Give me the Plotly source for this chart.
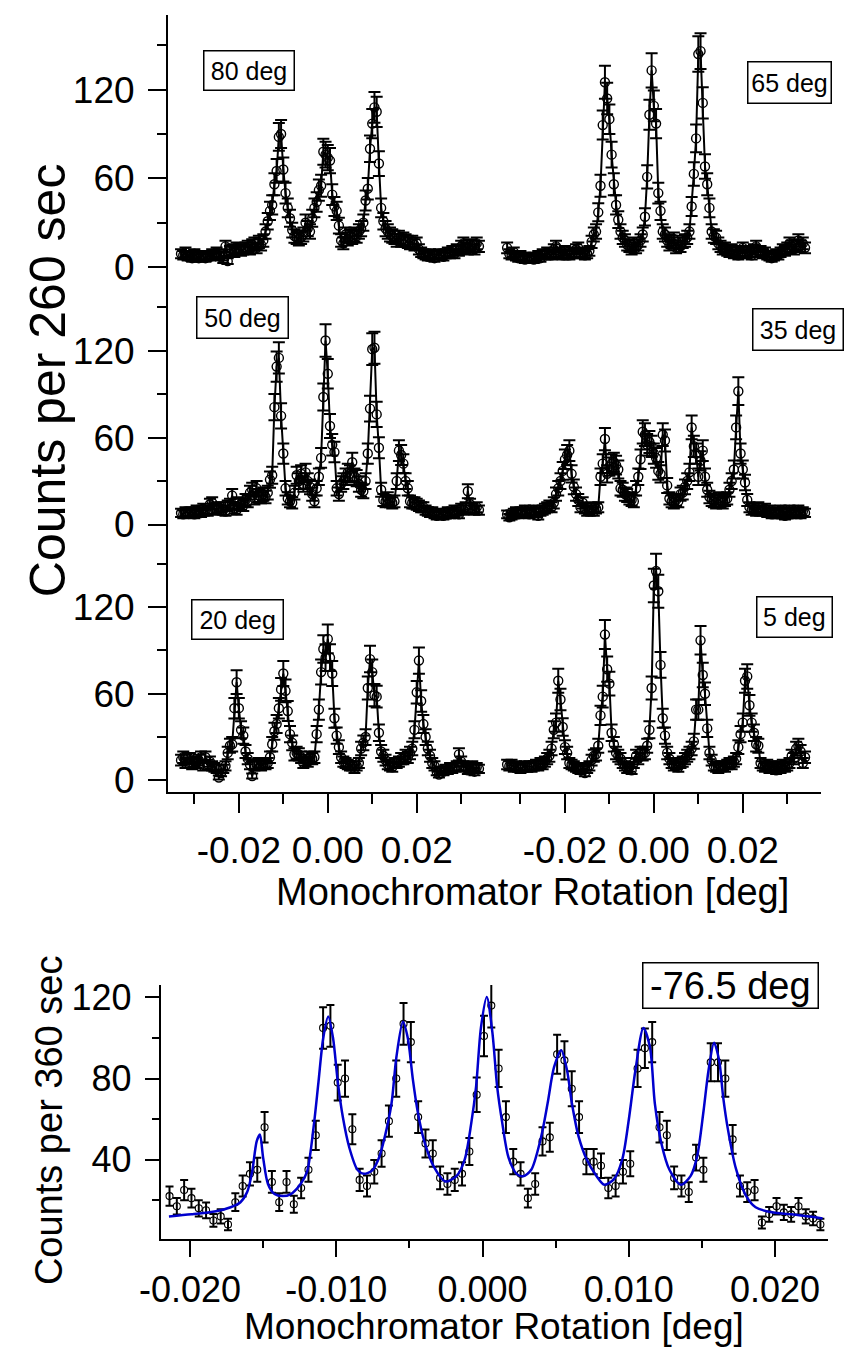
import plotly.graph_objects as go

W, H = 844, 1365

# ---------------- data ----------------
SCAN_START = -0.033          # first scan point of each top panel [deg]
SCAN_STEP = 0.0005           # scan step [deg]

COUNTS_80 = [9, 8, 10, 7, 8, 6, 9, 7, 6, 8,
             7, 6, 8, 7, 9, 8, 10, 9, 7, 5,
             14, 4, 11, 12, 10, 13, 12, 11, 12, 13,
             14, 12, 15, 16, 13, 17, 15, 18, 24, 31,
             38, 42, 56, 65, 88, 90, 66, 50, 40, 33,
             25, 21, 20, 19, 20, 22, 30, 26, 24, 33,
             40, 44, 52, 55, 78, 76, 74, 72, 49, 41,
             38, 28, 18, 16, 22, 19, 21, 20, 22, 21,
             24, 26, 30, 45, 53, 80, 97, 108, 105, 70,
             40, 31, 26, 24, 22, 21, 20, 18, 20, 18,
             19, 18, 17, 16, 17, 15, 16, 12, 10, 9,
             8, 7, 9, 8, 6, 8, 9, 8, 7, 9,
             10, 9, 11, 9, 12, 11, 14, 16, 13, 12,
             15, 14, 12, 16, 14]

COUNTS_65 = [13, 9, 8, 10, 7, 6, 8, 7, 5, 6,
             7, 6, 5, 7, 8, 6, 9, 8, 10, 9,
             8, 12, 14, 10, 9, 8, 11, 9, 8, 10,
             9, 12, 13, 9, 10, 8, 9, 11, 17, 22,
             24, 37, 55, 96, 125, 114, 100, 76, 56, 42,
             32, 24, 20, 18, 15, 14, 12, 16, 13, 15,
             18, 22, 34, 61, 103, 133, 109, 97, 50, 38,
             24, 22, 18, 15, 17, 19, 13, 16, 14, 17,
             18, 20, 24, 41, 63, 87, 144, 146, 111, 68,
             56, 40, 24, 21, 20, 16, 14, 12, 13, 11,
             10, 12, 9, 11, 8, 10, 13, 9, 11, 10,
             8, 12, 14, 10, 11, 9, 10, 8, 7, 6,
             7, 9, 8, 10, 12, 11, 13, 16, 14, 12,
             15, 18, 14, 16, 13]

COUNTS_50 = [8, 7, 9, 8, 8, 9, 7, 10, 9, 8,
             11, 10, 9, 14, 15, 11, 10, 12, 12, 10,
             9, 13, 14, 20, 11, 10, 15, 14, 13, 17,
             16, 22, 24, 18, 25, 20, 19, 21, 19, 22,
             31, 34, 81, 109, 115, 75, 49, 25, 18, 16,
             15, 22, 34, 30, 35, 28, 36, 30, 26, 21,
             16, 25, 33, 46, 88, 127, 104, 68, 55, 50,
             25, 21, 28, 30, 33, 36, 35, 43, 33, 32,
             28, 24, 23, 30, 49, 80, 121, 122, 76, 53,
             24, 17, 16, 18, 16, 15, 16, 30, 51, 48,
             42, 30, 25, 16, 15, 15, 14, 13, 12, 12,
             10, 9, 8, 9, 7, 6, 7, 8, 6, 7,
             9, 7, 8, 10, 9, 7, 11, 10, 12, 23,
             14, 11, 10, 12, 10]

COUNTS_35 = [7, 5, 6, 8, 9, 7, 8, 9, 10, 8,
             7, 9, 10, 8, 6, 9, 10, 11, 12, 13,
             12, 15, 21, 25, 30, 37, 45, 48, 51, 35,
             26, 21, 17, 12, 15, 11, 9, 10, 12, 9,
             11, 12, 33, 42, 59, 35, 40, 42, 43, 41,
             38, 25, 24, 21, 20, 18, 17, 16, 25, 33,
             45, 64, 62, 55, 57, 54, 49, 46, 37, 35,
             62, 58, 27, 18, 16, 15, 17, 16, 21, 22,
             26, 30, 36, 67, 54, 49, 33, 44, 51, 33,
             24, 19, 17, 16, 15, 18, 16, 15, 17, 18,
             24, 30, 38, 67, 92, 49, 38, 29, 17, 12,
             10, 11, 9, 12, 10, 9, 11, 8, 10, 7,
             9, 8, 7, 10, 9, 6, 8, 10, 7, 9,
             8, 10, 7, 9, 8]

COUNTS_20 = [14, 16, 12, 15, 15, 11, 13, 12, 14, 16,
             10, 16, 11, 13, 10, 9, 8, 2, 5, 8,
             10, 19, 24, 25, 50, 68, 50, 35, 31, 20,
             15, 11, 3, 10, 11, 12, 10, 12, 11, 12,
             16, 25, 34, 39, 50, 63, 74, 62, 48, 32,
             26, 18, 19, 18, 16, 12, 14, 13, 16, 15,
             16, 32, 49, 75, 91, 85, 98, 85, 74, 43,
             31, 23, 16, 13, 12, 11, 10, 10, 8, 10,
             12, 22, 26, 30, 64, 84, 75, 59, 58, 33,
             20, 17, 14, 11, 10, 9, 12, 12, 13, 15,
             15, 17, 16, 19, 22, 35, 61, 83, 55, 39,
             30, 22, 17, 12, 10, 6, 4, 7, 6, 8,
             7, 9, 8, 9, 10, 18, 13, 10, 9, 7,
             8, 10, 6, 9, 8]

COUNTS_5 = [11, 10, 11, 9, 10, 9, 8, 9, 10, 9,
            10, 9, 10, 11, 10, 12, 11, 13, 15, 17,
            22, 35, 40, 69, 56, 37, 23, 19, 12, 11,
            10, 9, 8, 7, 9, 5, 8, 10, 14, 17,
            18, 24, 45, 58, 101, 77, 67, 33, 25, 19,
            17, 15, 12, 10, 8, 9, 7, 12, 17, 15,
            19, 18, 19, 24, 35, 64, 135, 145, 131, 80,
            43, 31, 19, 15, 12, 10, 11, 9, 12, 13,
            15, 17, 19, 22, 27, 49, 49, 97, 73, 60,
            36, 19, 14, 10, 9, 8, 10, 10, 9, 11,
            12, 11, 13, 15, 23, 32, 40, 69, 72, 52,
            40, 33, 25, 24, 12, 10, 9, 11, 8, 10,
            9, 7, 10, 8, 11, 9, 10, 12, 17, 15,
            22, 24, 20, 12, 16]

PANEL_LABELS = ["80 deg", "65 deg", "50 deg", "35 deg", "20 deg", "5 deg"]

TOP_TICKS = [-0.02, 0.0, 0.02]
TOP_TICK_TEXT = ["-0.02", "0.00", "0.02"]
TOP_MINOR_TICKS = [-0.03, -0.01, 0.01, 0.03]

BOTTOM_START = -0.0214
BOTTOM_STEP = 0.0005
COUNTS_M765 = [22, 17, 25, 21, 16, 15, 10, 12, 8, 19,
               27, 33, 35, 56, 29, 19, 29, 18, 26, 35,
               52, 105, 106, 78, 80, 55, 30, 27, 34, 43,
               59, 80, 107, 98, 61, 48, 43, 31, 28, 30,
               33, 44, 72, 101, 116, 85, 61, 39, 33, 21,
               28, 49, 51, 92, 89, 75, 61, 39, 39, 37,
               26, 27, 34, 38, 85, 95, 98, 56, 52, 31,
               27, 24, 41, 35, 88, 88, 80, 50, 27, 24,
               25, 9, 13, 17, 14, 13, 17, 12, 11, 8]

FIT_X = [-0.02144, -0.01989, -0.01822, -0.01722, -0.01655, -0.01609, -0.01575,
         -0.01544, -0.01522, -0.01500, -0.01467, -0.01422, -0.01367, -0.01311,
         -0.01244, -0.01200, -0.01155, -0.01122, -0.01089, -0.01055, -0.01022,
         -0.00989, -0.00955, -0.00911, -0.00855, -0.00811, -0.00755, -0.00711,
         -0.00667, -0.00622, -0.00589, -0.00544, -0.00511, -0.00477, -0.00444,
         -0.00400, -0.00333, -0.00255, -0.00177, -0.00122, -0.00077, -0.00044,
         -0.00011, 0.00029, 0.00067, 0.00100, 0.00133, 0.00178, 0.00233,
         0.00278, 0.00333, 0.00400, 0.00445, 0.00489, 0.00538, 0.00578,
         0.00611, 0.00656, 0.00711, 0.00778, 0.00833, 0.00900, 0.00956,
         0.01000, 0.01045, 0.01100, 0.01145, 0.01178, 0.01223, 0.01278,
         0.01356, 0.01423, 0.01467, 0.01511, 0.01545, 0.01583, 0.01618,
         0.01645, 0.01678, 0.01733, 0.01800, 0.01867, 0.01978, 0.02111, 0.02325]
FIT_Y = [12, 13, 14.5, 16.5, 19, 24, 34,
         49, 52.4, 41, 28, 23, 22, 23,
         28, 34, 56, 78, 100, 110.6, 100,
         78, 61, 46, 35, 33, 34.6, 40.3,
         51.6, 67.8, 90.5, 108, 100, 80, 64,
         49.5, 36.5, 29.2, 32, 40, 58, 76,
         105, 120.3, 103, 76, 59, 41, 33,
         31.8, 35, 51, 67.8, 85.6, 94, 84,
         67.8, 51.6, 40.3, 32, 27.6, 30.5, 40.3,
         59.7, 84, 105, 95.3, 67.8, 48, 35,
         27.6, 32, 41.5, 64, 84, 97.7, 88.8,
         71, 54.8, 35.4, 22.4, 16.5, 14, 13, 11]

BOTTOM_TICKS = [-0.02, -0.01, 0.0, 0.01, 0.02]
BOTTOM_TICK_TEXT = ["-0.020", "-0.010", "0.000", "0.010", "0.020"]
BOTTOM_MINOR_TICKS = [-0.015, -0.005, 0.005, 0.015]

# ---------------- geometry (pixels of the 844x1365 page) ----------------
FONT = "Liberation Sans, Arial, Helvetica, sans-serif"


def fx(px):
    return px / W


def fy(py):
    return 1 - py / H


LEFT_DOM = (150.7, 482.0, 314.6)    # left px, right px, px of x=0
RIGHT_DOM = (482.0, 820.0, 649.0)
PPU_TOP = 4560.0
ROWS = [(6.8, 270.1, 263.3, 1.503),   # top px, bottom px, px of y=0, px per count
        (270.1, 533.4, 525.0, 1.473),
        (533.4, 796.7, 785.0, 1.467)]

BOT_X = (143.3, 828.0, 473.3, 15000.0)
BOT_Y = (993.0, 1251.0, 1211.7, 20.0, 2.06)

fig = go.Figure()

panels = [(COUNTS_80, "x", "y"), (COUNTS_65, "x2", "y"),
          (COUNTS_50, "x", "y2"), (COUNTS_35, "x2", "y2"),
          (COUNTS_20, "x", "y3"), (COUNTS_5, "x2", "y3")]

for vals, xa, ya in panels:
    fig.add_trace(go.Scatter(
        x0=SCAN_START, dx=SCAN_STEP, y=vals, xaxis=xa, yaxis=ya,
        mode="lines+markers",
        line=dict(color="black", width=2),
        marker=dict(symbol="circle-open", size=9, color="black",
                    line=dict(width=1.4, color="black")),
        error_y=dict(type="sqrt", visible=True, color="black",
                     thickness=2, width=6),
        showlegend=False, hoverinfo="skip"))

fig.add_trace(go.Scatter(
    x0=BOTTOM_START, dx=BOTTOM_STEP, y=COUNTS_M765, xaxis="x3", yaxis="y4",
    mode="markers",
    marker=dict(symbol="circle-open", size=7, color="black",
                line=dict(width=1.1, color="black")),
    error_y=dict(type="sqrt", visible=True, color="black",
                 thickness=2, width=4),
    showlegend=False, hoverinfo="skip"))

fig.add_trace(go.Scatter(
    x=FIT_X, y=FIT_Y, xaxis="x3", yaxis="y4", mode="lines",
    line=dict(color="rgb(0,0,205)", width=2.5, shape="spline", smoothing=0.8),
    showlegend=False, hoverinfo="skip"))

axis_common = dict(showline=True, linecolor="black", linewidth=2,
                   ticks="outside", tickcolor="black", tickwidth=2,
                   showgrid=False, zeroline=False,
                   tickfont=dict(family=FONT, size=37, color="black"))


def xrange(dom, ppu):
    lo, hi, zero = dom
    return [(lo - zero) / ppu, (hi - zero) / ppu]


layout = dict(
    width=W, height=H, margin=dict(l=0, r=0, t=0, b=0),
    paper_bgcolor="white", plot_bgcolor="white",
    font=dict(family=FONT, color="black"),
)

for name, dom in (("xaxis", LEFT_DOM), ("xaxis2", RIGHT_DOM)):
    layout[name] = dict(
        axis_common, domain=[fx(dom[0]), fx(dom[1])],
        range=xrange(dom, PPU_TOP), anchor="y3",
        tickmode="array", tickvals=TOP_TICKS, ticktext=TOP_TICK_TEXT,
        ticklen=19, ticklabelstandoff=6,
        minor=dict(tickmode="array", tickvals=TOP_MINOR_TICKS, ticklen=10,
                   tickwidth=2, tickcolor="black", ticks="outside",
                   showgrid=False))

for k, (top, bot, zero, ppc) in enumerate(ROWS):
    name = "yaxis" if k == 0 else "yaxis%d" % (k + 1)
    layout[name] = dict(
        axis_common, domain=[fy(bot), fy(top)],
        range=[-(bot - zero) / ppc, (zero - top) / ppc], anchor="x",
        dtick=60, tick0=0, ticklen=18, ticklabelstandoff=6,
        minor=dict(dtick=30, tick0=0, ticklen=9, tickwidth=2,
                   tickcolor="black", ticks="outside", showgrid=False))

bx_lo, bx_hi, bx_zero, bx_ppu = BOT_X
layout["xaxis3"] = dict(
    axis_common, domain=[fx(bx_lo), fx(bx_hi)],
    range=[(bx_lo - bx_zero) / bx_ppu, (bx_hi - bx_zero) / bx_ppu],
    anchor="y4", tickmode="array", tickvals=BOTTOM_TICKS,
    ticktext=BOTTOM_TICK_TEXT, ticklen=16, ticklabelstandoff=2,
    tickfont=dict(family=FONT, size=36, color="black"),
    minor=dict(tickmode="array", tickvals=BOTTOM_MINOR_TICKS, ticklen=7,
               tickwidth=2, tickcolor="black", ticks="outside",
               showgrid=False))
by_top, by_bot, by_ref, by_cnt, by_ppc = BOT_Y
layout["yaxis4"] = dict(
    axis_common, domain=[fy(by_bot), fy(by_top)],
    range=[by_cnt - (by_bot - by_ref) / by_ppc, by_cnt + (by_ref - by_top) / by_ppc],
    anchor="x3", dtick=40, tick0=0, ticklen=14, ticklabelstandoff=6,
    tickfont=dict(family=FONT, size=36, color="black"),
    minor=dict(dtick=20, tick0=0, ticklen=7, tickwidth=2,
               tickcolor="black", ticks="outside", showgrid=False))

annotations = []


def text_ann(text, px, py, size, angle=0):
    annotations.append(dict(
        text=text, x=fx(px), y=fy(py), xref="paper", yref="paper",
        xanchor="center", yanchor="middle", showarrow=False, textangle=angle,
        font=dict(family=FONT, size=size, color="black")))


def box_ann(text, x0, x1, y0, y1, size):
    annotations.append(dict(
        text=text, x=fx((x0 + x1) / 2), y=fy((y0 + y1) / 2),
        xref="paper", yref="paper", xanchor="center", yanchor="middle",
        showarrow=False, width=x1 - x0 - 2, height=y1 - y0 - 2,
        borderpad=0, borderwidth=1.5, bordercolor="black", bgcolor="white",
        font=dict(family=FONT, size=size, color="black")))


text_ann("Counts per 260 sec", 28, 378, 50, -90)
text_ann("Monochromator Rotation [deg]", 525, 898, 38)
text_ann("Counts per 360 sec", 28, 1130, 38, -90)
text_ann("Monochromator Rotation [deg]", 485, 1340, 37)

LABEL_BOXES = [(188.3, 279.3, 43.3, 83.3), (746, 830, 54.3, 96.7),
               (180.7, 272.7, 294, 336), (751.7, 842.7, 306, 348.3),
               (176, 268.3, 601.7, 641.7), (755, 830.7, 598.3, 639.3)]
for lab, (x0, x1, y0, y1) in zip(PANEL_LABELS, LABEL_BOXES):
    box_ann(lab, x0, x1, y0, y1, 25)
box_ann("-76.5 deg", 639.3, 815, 971, 1017, 38)

layout["annotations"] = annotations
fig.update_layout(**layout)

fig.write_html("out.html")
